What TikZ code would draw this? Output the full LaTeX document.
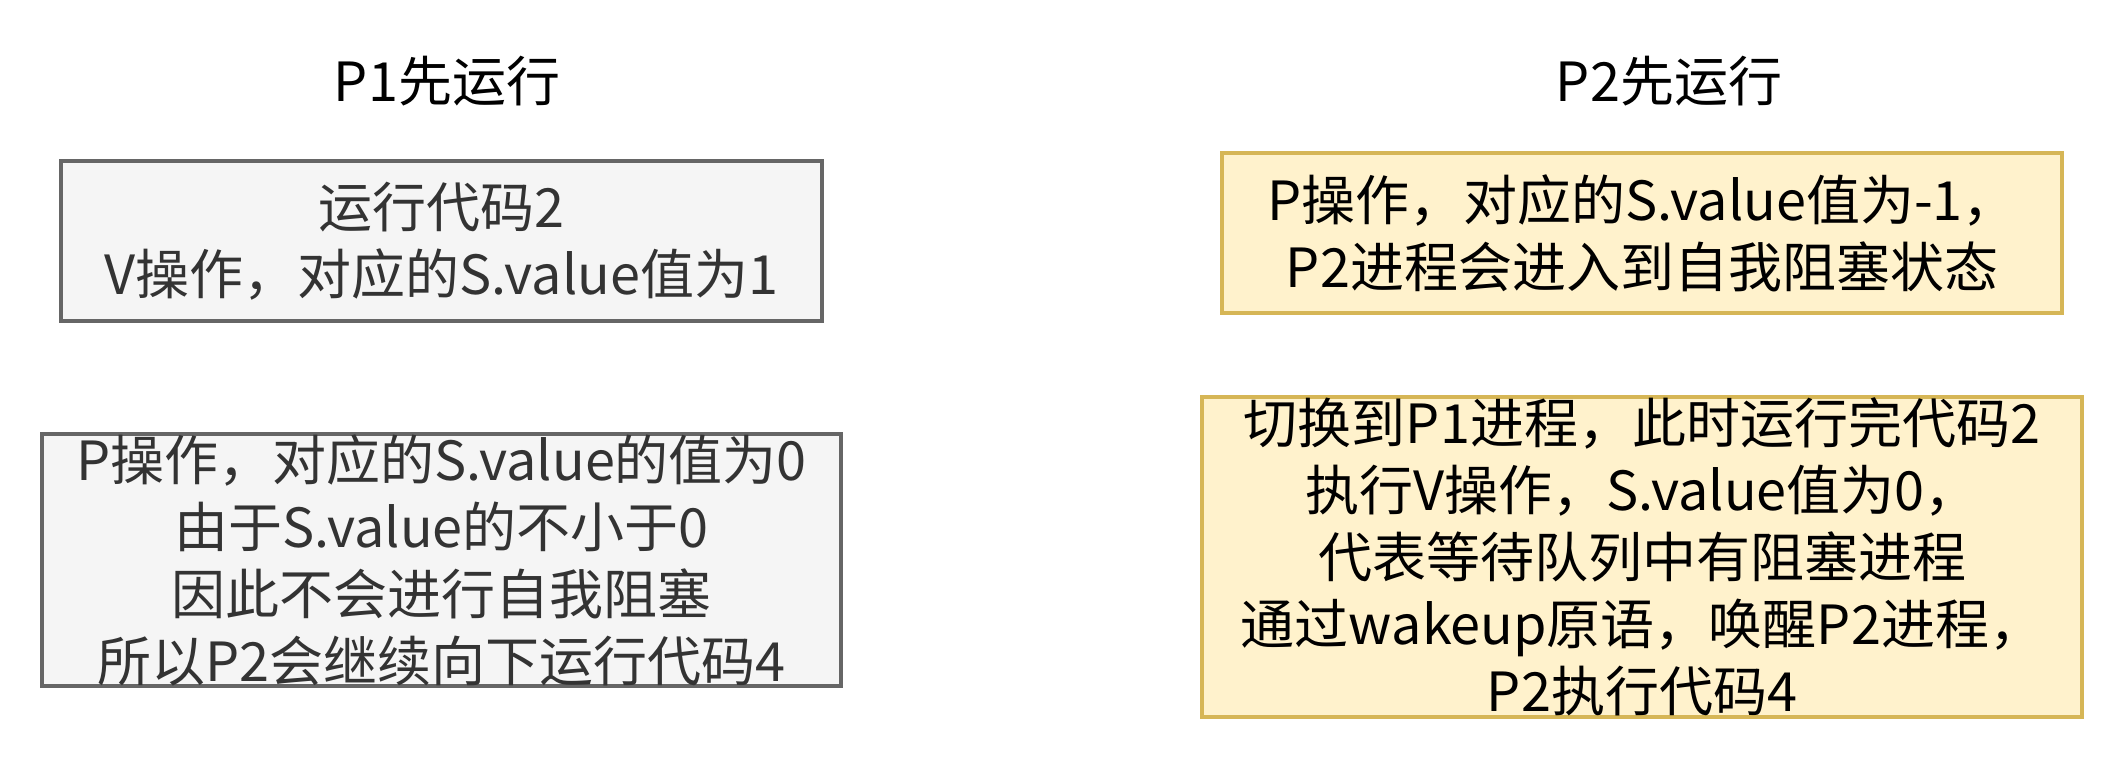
\documentclass[tikz,border=0pt]{standalone}
\usepackage{fontspec}
\setmainfont{Noto Sans CJK SC}
\definecolor{grayfill}{HTML}{F5F5F5}
\definecolor{grayline}{HTML}{666666}
\definecolor{graytext}{HTML}{333333}
\definecolor{yellowfill}{HTML}{FFF2CC}
\definecolor{yellowline}{HTML}{D6B656}
\tikzset{
  graybox/.style={draw=grayline,fill=grayfill,text=graytext,line width=2pt,inner sep=0pt,align=center},
  yellowbox/.style={draw=yellowline,fill=yellowfill,text=black,line width=2pt,inner sep=0pt,align=center},
  title/.style={inner sep=0pt}
}

\begin{document}
\begin{tikzpicture}[x=.5pt,y=-.5pt,font=\fontsize{27pt}{33.5pt}\selectfont]
\useasboundingbox (0,0) rectangle (2124,768);
\node[title] (t1) at (447,81) {P1先运行};
\node[title] (t2) at (1669,81) {P2先运行};
\node[graybox,minimum width=380.5pt,minimum height=80pt] (a) at (441.5,241) {运行代码2\\V操作，对应的S.value值为1};
\node[graybox,minimum width=399.5pt,minimum height=120pt] (b) at (441.5,560) {P操作，对应的S.value的值为0\\由于S.value的不小于0\\因此不会进行自我阻塞\\所以P2会继续向下运行代码4};
\node[yellowbox,minimum width=420pt,minimum height=80pt] (c) at (1642,233) {P操作，对应的S.value值为-1，\\P2进程会进入到自我阻塞状态};
\node[yellowbox,minimum width=440pt,minimum height=160pt] (d) at (1642,557) {切换到P1进程，此时运行完代码2\\执行V操作，S.value值为0，\\代表等待队列中有阻塞进程\\通过wakeup原语，唤醒P2进程，\\P2执行代码4};
\end{tikzpicture}
\end{document}
